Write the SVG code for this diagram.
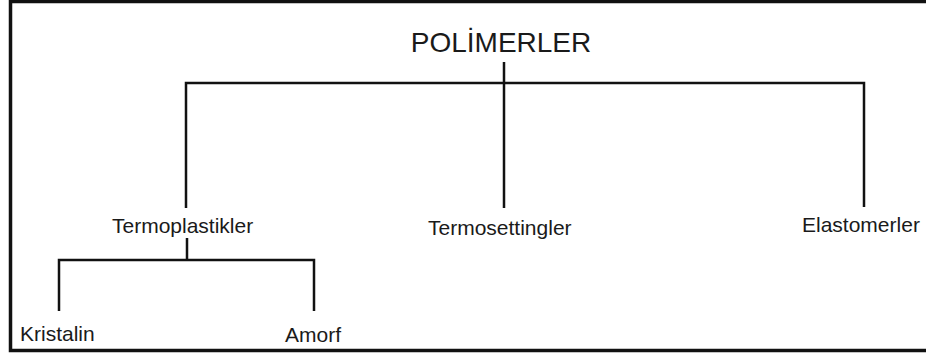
<svg xmlns="http://www.w3.org/2000/svg" width="926" height="358" viewBox="0 0 926 358">
<style>
.t{font-family:"Liberation Sans",Arial,sans-serif;font-size:21px;fill:#1a1a1a}
.c{fill:none;stroke:#111;stroke-width:2.5}
</style>
<rect x="0" y="0" width="926" height="358" fill="#fff"/>
<rect x="10.5" y="1.5" width="930" height="349" fill="none" stroke="#111" stroke-width="3.5"/>
<g id="connectors">
<path class="c" d="M504 62V208M186 208V83H864V207"/>
<path class="c" d="M187 238V260M59 311V260H314V311"/>
</g>
<g id="polimerler"><text class="t" x="501" y="52" text-anchor="middle" style="font-size:28px">POLİMERLER</text></g>
<g id="termoplastikler"><text class="t" x="112" y="233">Termoplastikler</text></g>
<g id="termosettingler"><text class="t" x="428" y="235">Termosettingler</text></g>
<g id="elastomerler"><text class="t" x="802" y="232">Elastomerler</text></g>
<g id="kristalin"><text class="t" x="20" y="341">Kristalin</text></g>
<g id="amorf"><text class="t" x="285" y="342">Amorf</text></g>
</svg>
